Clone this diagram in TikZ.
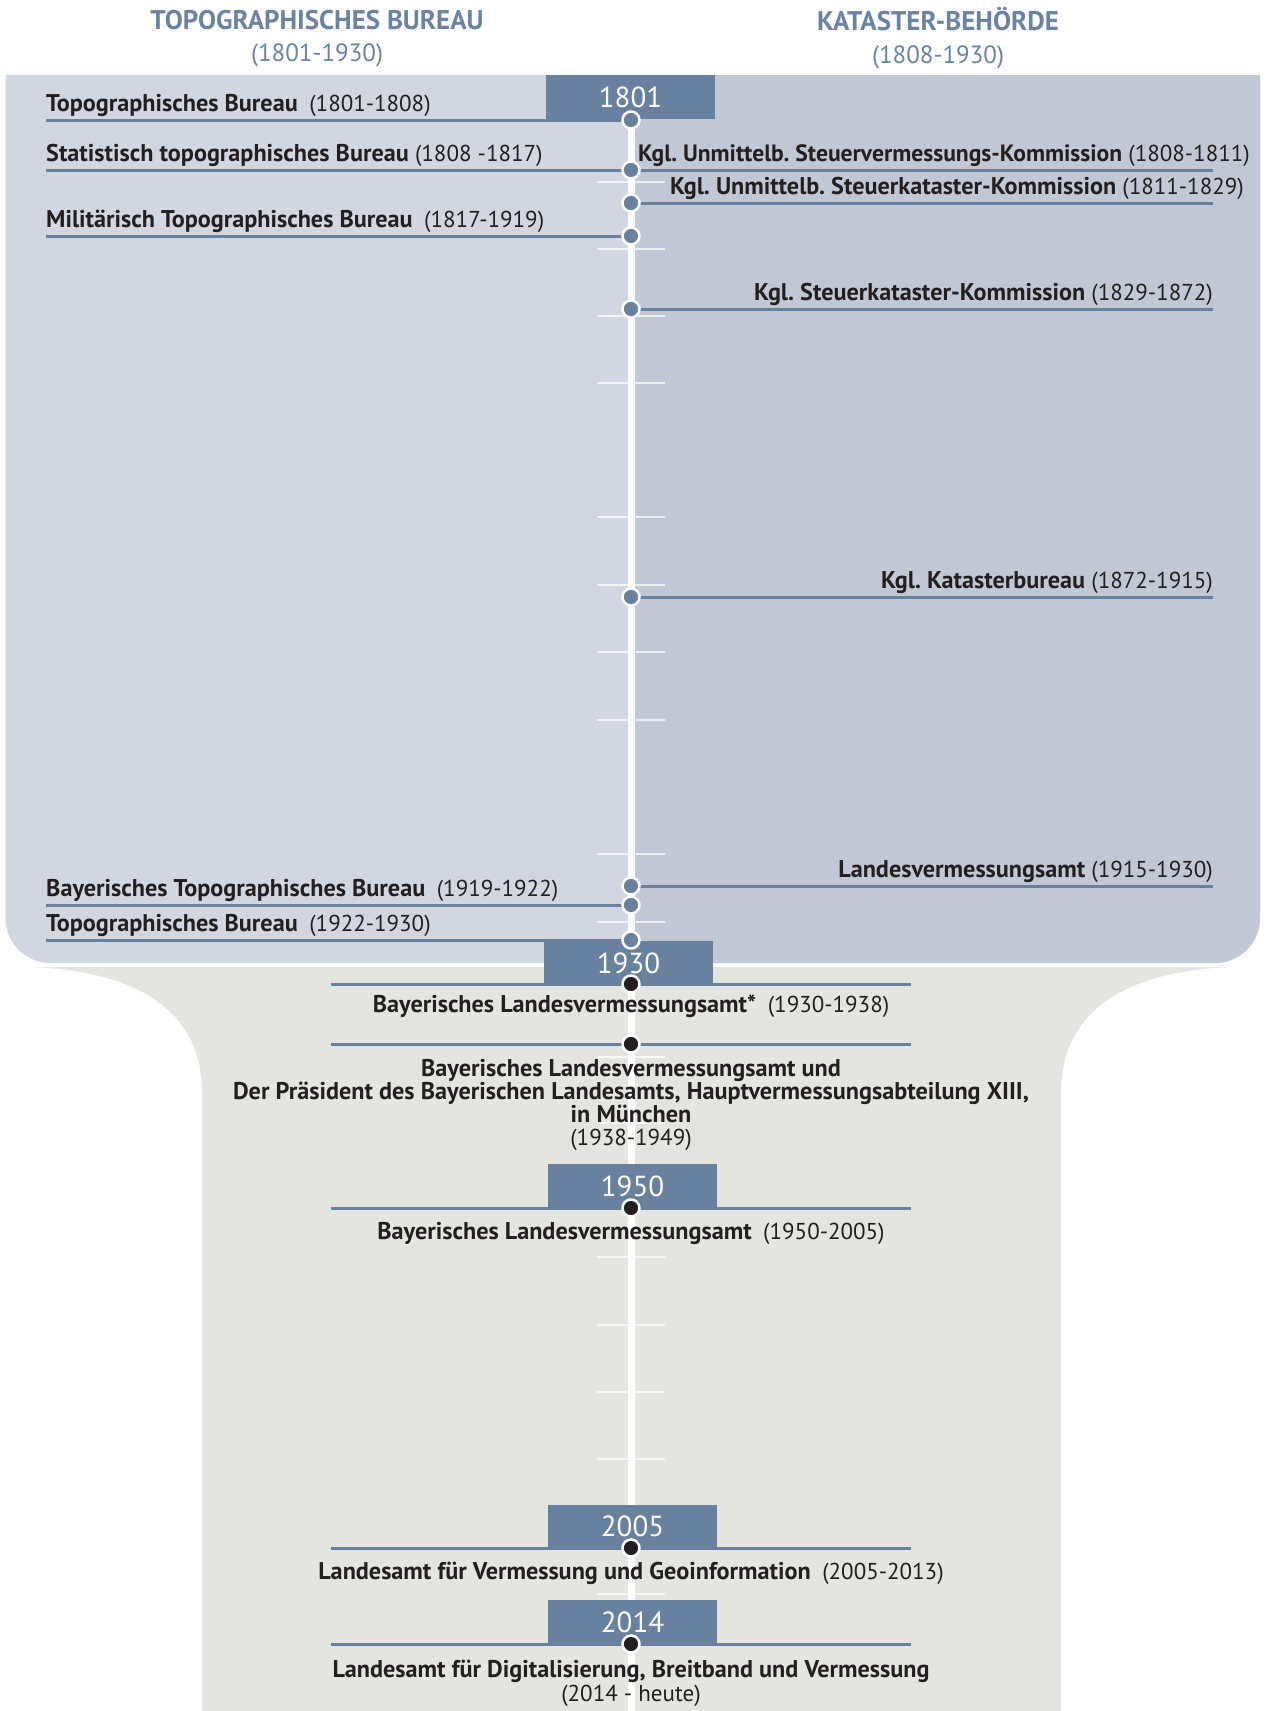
\documentclass[tikz,border=0pt]{standalone}
\usepackage{fontspec}
\setmainfont{PT Sans}
\definecolor{panelL}{HTML}{D1D6E1}
\definecolor{panelR}{HTML}{C1C7D4}
\definecolor{panelB}{HTML}{E4E4E0}
\definecolor{boxcol}{HTML}{67819F}
\definecolor{headcol}{HTML}{6A83A3}
\definecolor{txtcol}{HTML}{231F20}
\newcommand\lblfont{\fontsize{23}{25}\selectfont}
\newcommand\yearfont{\fontsize{29}{32}\selectfont}
\newcommand\headfont{\fontsize{25}{28}\selectfont}
\newcommand\headbold{\fontsize{27}{28}\selectfont\bfseries}
\newcommand\dsp{\hspace{0.5em}}
\newcommand\nm[1]{{\fontsize{24.2}{25}\selectfont\bfseries #1}}
\newcommand\nmsm[1]{{\fontsize{23.6}{25}\selectfont\bfseries #1}}
\frenchspacing
\begin{document}
\frenchspacing
\begin{tikzpicture}[x=1pt,y=-1pt,
  conn/.style={draw=boxcol,line width=3pt},
  tickline/.style={draw=white,opacity=0.75,line width=1.8pt},
  topdot/.style={circle,fill=boxcol,draw=white,line width=2.5pt,minimum size=17pt,inner sep=0pt},
  botdot/.style={circle,fill=txtcol,draw=white,line width=2.5pt,minimum size=17pt,inner sep=0pt},
  yearbox/.style={rectangle,fill=boxcol,minimum width=169pt,minimum height=44pt,inner sep=0pt,text=white,font=\yearfont},
  lefttxt/.style={anchor=base west,inner sep=0pt,text=txtcol,font=\lblfont},
  righttxt/.style={anchor=base east,inner sep=0pt,text=txtcol,font=\lblfont},
  ctrtxt/.style={anchor=base,inner sep=0pt,text=txtcol,font=\lblfont},
  headtxt/.style={anchor=base,inner sep=0pt,text=headcol,font=\headfont}]
\useasboundingbox (0,0) rectangle (1267,1711);
\fill[white] (0,0) rectangle (1267,1711);
% lower panel
\fill[panelB] (33,967) .. controls (140,972) and (202,1012) .. (202,1093) -- (202,1711)
  -- (1061,1711) -- (1061,1093) .. controls (1061,1012) and (1123,972) .. (1230,967) -- cycle;
% upper panel
\begin{scope}
  \clip (0,75) rectangle (1267,1000);
  \fill[panelL,rounded corners=45pt] (5.5,20) rectangle (1260,963);
  \clip (634.5,0) rectangle (1267,1000);
  \fill[panelR,rounded corners=45pt] (5.5,20) rectangle (1260,963);
\end{scope}
% ticks
\foreach \ty in {182,249,316,383,517,585,652,720,854,922,1057,1123,1257,1325,1392,1459,1594}
  \draw[tickline] (597,\ty) -- (665,\ty);
% timeline
\coordinate (tTop) at (631,120);
\coordinate (tBot) at (631,1711);
\draw[white,line width=7pt] (tTop) -- (tBot);
% dot positions
\coordinate (c1) at (631,120);
\coordinate (c2) at (631,170);
\coordinate (c3) at (631,203);
\coordinate (c4) at (631,236);
\coordinate (c5) at (631,309);
\coordinate (c6) at (631,597);
\coordinate (c7) at (631,886);
\coordinate (c8) at (631,905);
\coordinate (c9) at (631,940);
\coordinate (k1) at (631,984);
\coordinate (k2) at (631,1044);
\coordinate (k3) at (631,1208);
\coordinate (k4) at (631,1548);
\coordinate (k5) at (631,1644);
% line ends
\coordinate (eL1) at (46,120);
\coordinate (eL2) at (46,170);
\coordinate (eL3) at (46,236);
\coordinate (eL4) at (46,905);
\coordinate (eL5) at (46,940);
\coordinate (eR1) at (1213,170);
\coordinate (eR2) at (1213,203);
\coordinate (eR3) at (1213,309);
\coordinate (eR4) at (1213,597);
\coordinate (eR5) at (1213,886);
\foreach \n/\yy in {1/984,2/1044,3/1208,4/1548,5/1644}{
  \coordinate (bA\n) at (331,\yy);
  \coordinate (bB\n) at (911,\yy);
}
% connectors
\draw[conn] (eL1) -- (c1);
\draw[conn] (eL2) -- (c2);
\draw[conn] (eL3) -- (c4);
\draw[conn] (eL4) -- (c8);
\draw[conn] (eL5) -- (c9);
\draw[conn] (c2) -- (eR1);
\draw[conn] (c3) -- (eR2);
\draw[conn] (c5) -- (eR3);
\draw[conn] (c6) -- (eR4);
\draw[conn] (c7) -- (eR5);
\foreach \n in {1,...,5}{\draw[conn] (bA\n) -- (bB\n);}
% year boxes
\node[yearbox] (y1801) at (630.5,97) {1801};
\node[yearbox] (y1930) at (628.5,963) {1930};
\node[yearbox] (y1950) at (632.5,1186) {1950};
\node[yearbox] (y2005) at (632.5,1526.5) {2005};
\node[yearbox] (y2014) at (632.5,1622) {2014};
% dots
\foreach \n in {1,...,9}{\node[topdot] (d\n) at (c\n) {};}
\foreach \n in {1,...,5}{\node[botdot] (e\n) at (k\n) {};}
% headers
\node[headtxt] (hL1) at (317,29) {\headbold TOPOGRAPHISCHES BUREAU};
\node[headtxt] (hL2) at (317,61) {(1801-1930)};
\node[headtxt] (hR1) at (938,30) {\headbold KATASTER-BEHÖRDE};
\node[headtxt] (hR2) at (938,63) {(1808-1930)};
% left labels
\node[lefttxt] (tL1) at (46,111) {\nm{Topographisches Bureau}\dsp(1801-1808)};
\node[lefttxt] (tL2) at (46,161) {\nm{Statistisch topographisches Bureau} (1808 -1817)};
\node[lefttxt] (tL3) at (46,227) {\nm{Militärisch Topographisches Bureau}\dsp(1817-1919)};
\node[lefttxt] (tL4) at (46,896) {\nm{Bayerisches Topographisches Bureau}\dsp(1919-1922)};
\node[lefttxt] (tL5) at (46,931) {\nm{Topographisches Bureau}\dsp(1922-1930)};
% right labels
\node[righttxt] (tR1) at (1250,161) {\nmsm{Kgl. Unmittelb. Steuervermessungs-Kommission} (1808-1811)};
\node[righttxt] (tR2) at (1244,194) {\nm{Kgl. Unmittelb. Steuerkataster-Kommission} (1811-1829)};
\node[righttxt] (tR3) at (1213,300) {\nm{Kgl. Steuerkataster-Kommission} (1829-1872)};
\node[righttxt] (tR4) at (1213,588) {\nm{Kgl. Katasterbureau} (1872-1915)};
\node[righttxt] (tR5) at (1213,877) {\nm{Landesvermessungsamt} (1915-1930)};
% lower labels
\node[ctrtxt] (tB1) at (631,1012) {\nm{Bayerisches Landesvermessungsamt*}\dsp(1930-1938)};
\node[ctrtxt] (tB2a) at (631,1076) {\nm{Bayerisches Landesvermessungsamt und}};
\node[ctrtxt] (tB2b) at (631,1099) {\nm{Der Präsident des Bayerischen Landesamts, Hauptvermessungsabteilung XIII,}};
\node[ctrtxt] (tB2c) at (631,1122) {\nm{in München}};
\node[ctrtxt] (tB2d) at (631,1145) {(1938-1949)};
\node[ctrtxt] (tB3) at (631,1239) {\nm{Bayerisches Landesvermessungsamt}\dsp(1950-2005)};
\node[ctrtxt] (tB4) at (631,1579) {\nm{Landesamt für Vermessung und Geoinformation}\dsp(2005-2013)};
\node[ctrtxt] (tB5a) at (631,1677) {\nm{Landesamt für Digitalisierung, Breitband und Vermessung}};
\node[ctrtxt] (tB5b) at (631,1701) {(2014 - heute)};
\end{tikzpicture}
\end{document}
